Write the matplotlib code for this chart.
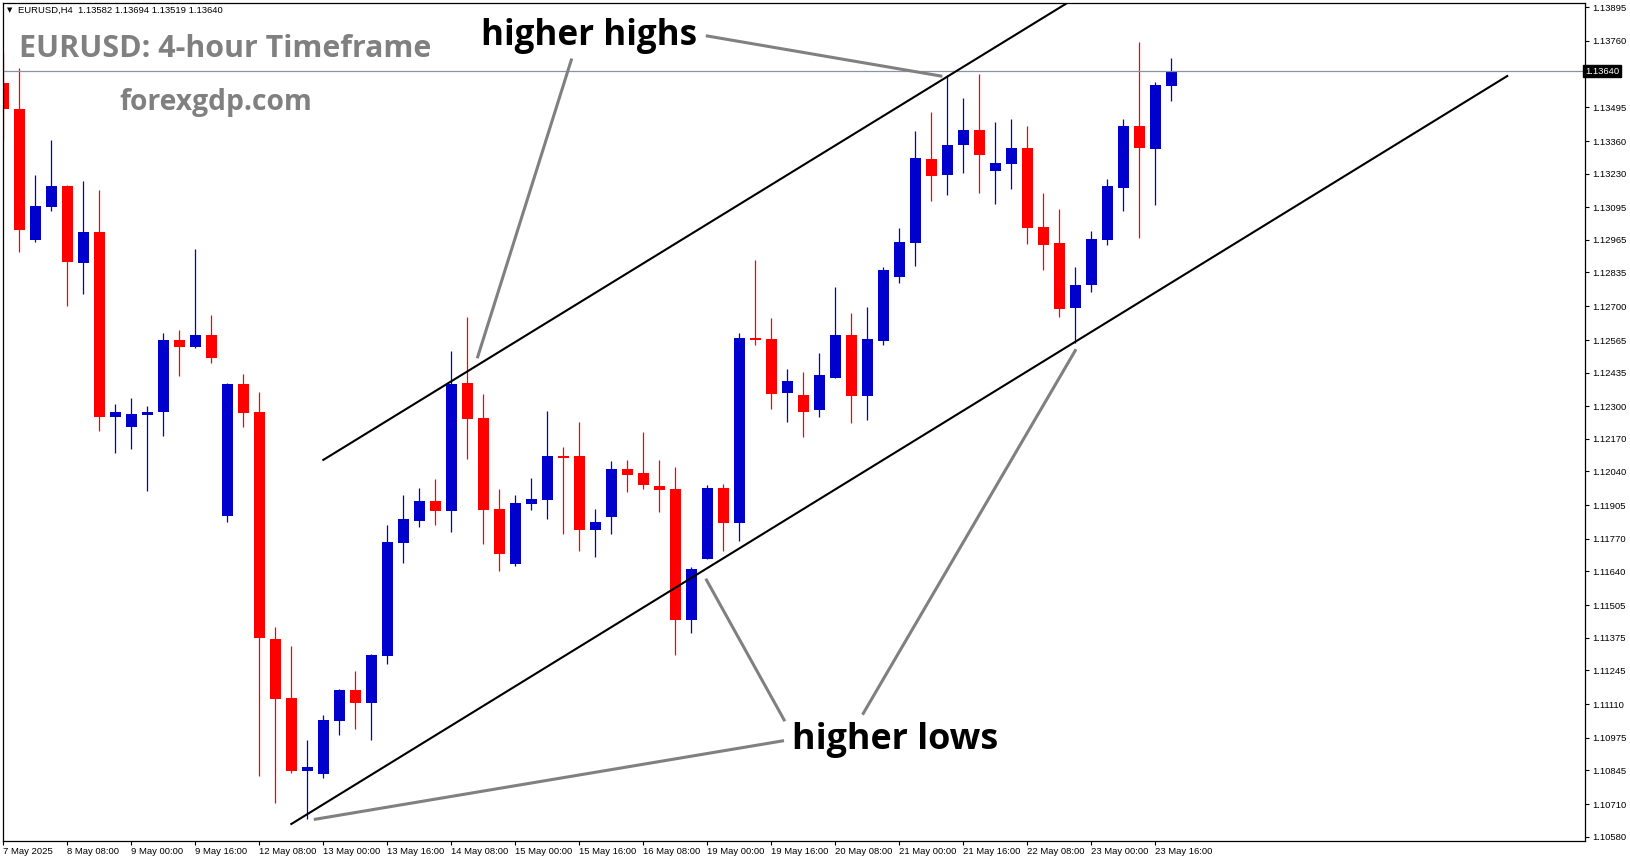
import matplotlib
matplotlib.use("Agg")
import matplotlib.pyplot as plt
import numpy as np

# EURUSD H4 candles, 7 May 16:00 .. 23 May 20:00
opens = [1.13591, 1.13488, 1.12965, 1.13098, 1.13180, 1.12874, 1.12997, 1.12259, 1.12219, 1.12267,
         1.12279, 1.12565, 1.12538, 1.12585, 1.11863, 1.12389, 1.12277, 1.11370, 1.11134, 1.10844,
         1.10832, 1.11044, 1.11166, 1.11116, 1.11304, 1.11755, 1.11843, 1.11922, 1.11883, 1.12393,
         1.12253, 1.11890, 1.11671, 1.11911, 1.11927, 1.12103, 1.12102, 1.11807, 1.11859, 1.12050,
         1.12034, 1.11982, 1.11970, 1.11447, 1.11691, 1.11974, 1.11835, 1.12573, 1.12569, 1.12354,
         1.12345, 1.12287, 1.12414, 1.12585, 1.12342, 1.12562, 1.12818, 1.12954, 1.13288, 1.13226,
         1.13345, 1.13404, 1.13242, 1.13270, 1.13332, 1.13017, 1.12953, 1.12694, 1.12786, 1.12966,
         1.13174, 1.13420, 1.13329, 1.13582]
highs = [1.13711, 1.13651, 1.13224, 1.13364, 1.13184, 1.13200, 1.13164, 1.12309, 1.12333, 1.12301,
         1.12593, 1.12605, 1.12929, 1.12665, 1.12394, 1.12429, 1.12357, 1.11418, 1.11342, 1.10967,
         1.11067, 1.11169, 1.11242, 1.11310, 1.11826, 1.11946, 1.11974, 1.12010, 1.12521, 1.12657,
         1.12349, 1.11970, 1.11946, 1.12014, 1.12281, 1.12137, 1.12237, 1.11890, 1.12082, 1.12086,
         1.12197, 1.12086, 1.12058, 1.11659, 1.11986, 1.11990, 1.12593, 1.12885, 1.12653, 1.12449,
         1.12437, 1.12513, 1.12777, 1.12673, 1.12697, 1.12857, 1.13013, 1.13400, 1.13476, 1.13624,
         1.13532, 1.13629, 1.13436, 1.13448, 1.13420, 1.13152, 1.13089, 1.12857, 1.13001, 1.13208,
         1.13448, 1.13756, 1.13596, 1.13694]
lows = [1.13364, 1.12916, 1.12957, 1.13082, 1.12701, 1.12749, 1.12203, 1.12115, 1.12128, 1.11963,
        1.12183, 1.12422, 1.12532, 1.12472, 1.11839, 1.12219, 1.10824, 1.10716, 1.10836, 1.10652,
        1.10816, 1.10988, 1.11012, 1.10968, 1.11272, 1.11675, 1.11819, 1.11827, 1.11799, 1.12091,
        1.11751, 1.11643, 1.11663, 1.11887, 1.11851, 1.11791, 1.11723, 1.11699, 1.11791, 1.11959,
        1.11971, 1.11879, 1.11308, 1.11393, 1.11691, 1.11723, 1.11763, 1.12546, 1.12291, 1.12239,
        1.12179, 1.12259, 1.12414, 1.12235, 1.12247, 1.12546, 1.12794, 1.12862, 1.13122, 1.13146,
        1.13234, 1.13154, 1.13110, 1.13170, 1.12950, 1.12846, 1.12658, 1.12554, 1.12758, 1.12946,
        1.13082, 1.12974, 1.13106, 1.13519]
closes = [1.13488, 1.13005, 1.13101, 1.13180, 1.12878, 1.12997, 1.12259, 1.12277, 1.12269, 1.12277,
          1.12565, 1.12538, 1.12585, 1.12494, 1.12389, 1.12275, 1.11373, 1.11132, 1.10844, 1.10860,
          1.11047, 1.11166, 1.11113, 1.11306, 1.11758, 1.11850, 1.11922, 1.11883, 1.12389, 1.12251,
          1.11887, 1.11711, 1.11914, 1.11930, 1.12102, 1.12095, 1.11807, 1.11838, 1.12050, 1.12027,
          1.11987, 1.11967, 1.11447, 1.11650, 1.11974, 1.11835, 1.12573, 1.12566, 1.12350, 1.12401,
          1.12279, 1.12425, 1.12585, 1.12342, 1.12569, 1.12845, 1.12957, 1.13292, 1.13222, 1.13344,
          1.13404, 1.13306, 1.13272, 1.13332, 1.13014, 1.12946, 1.12690, 1.12785, 1.12969, 1.13180,
          1.13420, 1.13333, 1.13584, 1.13640]

time_labels = ["7 May 2025", "8 May 08:00", "9 May 00:00", "9 May 16:00", "12 May 08:00",
               "13 May 00:00", "13 May 16:00", "14 May 08:00", "15 May 00:00", "15 May 16:00",
               "16 May 08:00", "19 May 00:00", "19 May 16:00", "20 May 08:00", "21 May 00:00",
               "21 May 16:00", "22 May 08:00", "23 May 00:00", "23 May 16:00"]
label_every = 4

price_ticks = [1.13895, 1.13760, 1.13495, 1.13360, 1.13230, 1.13095, 1.12965, 1.12835, 1.12700,
               1.12565, 1.12435, 1.12300, 1.12170, 1.12040, 1.11905, 1.11770, 1.11640, 1.11505,
               1.11375, 1.11245, 1.11110, 1.10975, 1.10845, 1.10710, 1.10580]
last_price = 1.13640

# trend channel (bar index, price)
upper_x = [20.0, 66.5]
upper_y = [1.12086, 1.13912]
lower_x = [18.0, 94.0]
lower_y = [1.10631, 1.13620]

# gray pointer lines (bar index, price)
pointers = [
    ([44.0, 58.6], [1.13780, 1.13620]),
    ([35.5, 29.65], [1.13684, 1.12498]),
    ([48.7, 19.5], [1.10963, 1.10650]),
    ([48.8, 43.95], [1.11047, 1.11606]),
    ([53.75, 67.0], [1.11073, 1.12523]),
]

W, H = 1631, 861
fig = plt.figure(figsize=(W / 100, H / 100), dpi=100)
ax = fig.add_axes([2.7 / W, 1 - 841 / H, (1585 - 2.7) / W, (841 - 2.7) / H])

x = np.arange(len(opens))
o = np.array(opens)
c = np.array(closes)
colors = np.where(c >= o, "#0000cd", "#ff0000")

ax.vlines(x, lows, highs, colors=colors, linewidth=0.9)
bottoms = np.minimum(o, c)
heights = np.maximum(np.abs(c - o), 0.00003)
ax.bar(x, heights, bottom=bottoms, width=0.68, color=colors, linewidth=0)

ax.axhline(last_price, color="#8a94a0", linewidth=0.9)

ax.plot(upper_x, upper_y, color="black", linewidth=1.5)
ax.plot(lower_x, lower_y, color="black", linewidth=1.5)
for px, py in pointers:
    ax.plot(px, py, color="#808080", linewidth=2.2)

ax.set_xlim(-0.04, 98.86)
ax.set_ylim(1.10563, 1.13913)

tick_font = "Liberation Sans"
ax.yaxis.tick_right()
ax.set_yticks(price_ticks)
ax.set_yticklabels([f"{p:.5f}" for p in price_ticks], family=tick_font)
ax.tick_params(axis="y", direction="out", length=3, width=0.8, pad=2, labelsize=6.8)

ax.set_xticks(np.arange(len(time_labels)) * label_every)
ax.set_xticklabels(time_labels, family=tick_font)
for lab in ax.get_xticklabels():
    lab.set_horizontalalignment("left")
ax.tick_params(axis="x", direction="out", length=3, width=0.8, pad=1.5, labelsize=6.8)

for s in ax.spines.values():
    s.set_linewidth(0.9)
    s.set_color("black")

ax.text(1.0, last_price, "1.13640", transform=ax.get_yaxis_transform(), ha="left", va="center",
        color="white", fontsize=6.8, family=tick_font,
        bbox=dict(facecolor="black", edgecolor="black", pad=1.4))

# header and captions
fig.text(7 / W, 1 - 10 / H, "\u25bc", fontsize=5, va="center", ha="left")
fig.text(18 / W, 1 - 10 / H, "EURUSD,H4  1.13582 1.13694 1.13519 1.13640", fontsize=6.8,
         family=tick_font, va="center")
fig.text(19 / W, 1 - 57 / H, "EURUSD: 4-hour Timeframe", fontsize=21.9, fontweight="bold",
         family="Open Sans", color="#808080", va="baseline")
fig.text(119 / W, 1 - 110 / H, "forexgdp.com", fontsize=20.3, fontweight="bold",
         family="Open Sans", color="#808080", va="baseline")
fig.text(481 / W, 1 - 45 / H, "higher highs", fontsize=25.2, fontweight="bold",
         family="Open Sans", color="black", va="baseline")
fig.text(792 / W, 1 - 749 / H, "higher lows", fontsize=25.8, fontweight="bold",
         family="Open Sans", color="black", va="baseline")

plt.savefig("out.png", dpi=100)
